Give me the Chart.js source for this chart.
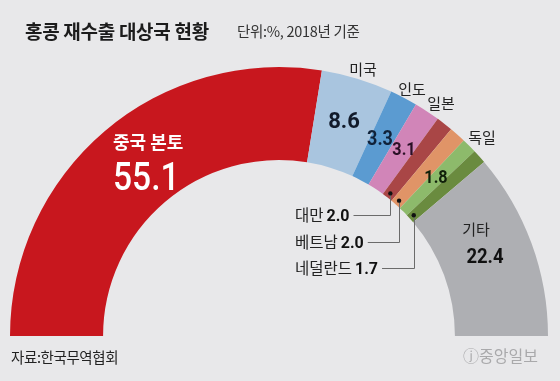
<!DOCTYPE html>
<html><head><meta charset="utf-8">
<script src="https://cdn.jsdelivr.net/npm/chart.js@4/dist/chart.umd.min.js"></script>
<style>
html,body{margin:0;padding:0;background:#e8e8ea;}
#wrap{position:relative;width:560px;height:381px;overflow:hidden;background:#e8e8ea;font-family:"Noto Sans CJK KR",sans-serif;}
#c{position:absolute;left:0;top:0;}
.t{position:absolute;white-space:nowrap;line-height:1;}
</style></head><body>
<div id="wrap">
<canvas id="c" width="560" height="381"></canvas>
<div class="t" style="left:25px;top:21px;font-size:19px;font-weight:bold;color:#1c1c1c;letter-spacing:-0.3px;">홍콩 재수출 대상국 현황</div>
<div class="t" style="left:237px;top:24px;font-size:14.5px;color:#333;letter-spacing:-0.3px;">단위:%, 2018년 기준</div>
<div class="t" style="left:11px;top:350px;font-size:14.5px;color:#222;letter-spacing:-0.4px;">자료:한국무역협회</div>
<div class="t" style="left:463px;top:347px;font-size:16px;color:#a9a9ab;">ⓙ중앙일보</div>
</div>
<script>
const categories = ['중국 본토','미국','인도','일본','대만','베트남','독일','네덜란드','기타'];
const shares = [55.1, 8.6, 3.3, 3.1, 2.0, 2.0, 1.8, 1.7, 22.4];
const valueLabels = ['55.1','8.6','3.3','3.1','2.0','2.0','1.8','1.7','22.4'];
const colors = ['#c8171e','#a9c5df','#5b9bd1','#d185b8','#a94646','#e09467','#8dba6b','#6a8b3f','#aeafb3'];

const KR = '"Noto Sans CJK KR", sans-serif';
const NUM = 'Roboto, "Liberation Sans", sans-serif';

// label placement (style only)
const namePos = {
  0:{x:113,y:142,size:18,color:'#ffffff',bold:true,align:'left'},
  1:{x:363,y:69,size:15,color:'#222'},
  2:{x:412,y:89,size:15,color:'#222'},
  3:{x:441,y:103,size:15,color:'#222'},
  6:{x:482,y:137,size:15,color:'#222'},
  8:{x:476,y:229,size:15,color:'#222'}
};
const valuePos = {
  0:{x:113,y:190,size:39,color:'#ffffff',align:'left',w:'500',sx:0.86},
  1:{x:344,y:128,size:22,color:'#111a2a',w:'bold'},
  2:{x:380,y:145,size:20,color:'#10223a',w:'bold',sx:0.9},
  3:{x:404,y:155,size:18,color:'#2a1026',w:'bold',sx:0.9},
  6:{x:436,y:183,size:18,color:'#10200a',w:'bold',sx:0.9},
  8:{x:485,y:263,size:21,color:'#111',w:'bold',sx:0.88}
};
const leaders = [
  {i:4,y:215},
  {i:5,y:242},
  {i:7,y:268}
];

const labelPlugin = {
  id:'labels',
  afterDatasetsDraw(chart){
    const ctx = chart.ctx;
    const meta = chart.getDatasetMeta(0);
    ctx.save();
    Object.keys(namePos).forEach(k=>{
      const p = namePos[k];
      ctx.font = (p.bold?'bold ':'') + p.size + 'px ' + KR;
      ctx.fillStyle = p.color;
      ctx.textAlign = p.align || 'center';
      ctx.textBaseline = 'middle';
      ctx.fillText(categories[k], p.x, p.y);
    });
    Object.keys(valuePos).forEach(k=>{
      const p = valuePos[k];
      ctx.save();
      ctx.font = (p.w ? p.w + ' ' : '') + p.size + 'px ' + NUM;
      ctx.fillStyle = p.color;
      ctx.textAlign = p.align || 'center';
      ctx.textBaseline = 'alphabetic';
      const sx = p.sx || 1;
      ctx.translate(p.x, p.y);
      ctx.scale(sx, 1);
      ctx.fillText(valueLabels[k], 0, 0);
      ctx.restore();
    });
    // leader labels
    leaders.forEach(l=>{
      const arc = meta.data[l.i];
      const mid = (arc.startAngle + arc.endAngle)/2;
      const rr = arc.innerRadius + 5;
      const dx = arc.x + Math.cos(mid)*rr;
      const dy = arc.y + Math.sin(mid)*rr;
      const x0 = 295;
      ctx.font = '15.5px ' + KR;
      ctx.textAlign = 'left';
      ctx.textBaseline = 'middle';
      ctx.fillStyle = '#222';
      ctx.fillText(categories[l.i], x0, l.y);
      const w1 = ctx.measureText(categories[l.i]).width;
      ctx.font = 'bold 16px ' + NUM;
      ctx.textBaseline = 'alphabetic';
      ctx.fillStyle = '#111';
      const x1 = x0 + w1 + 3;
      ctx.fillText(valueLabels[l.i], x1, l.y + 6);
      const w2 = ctx.measureText(valueLabels[l.i]).width;
      const lx = x1 + w2 + 4;
      ctx.strokeStyle = '#6b6b6b';
      ctx.lineWidth = 1;
      ctx.beginPath();
      ctx.moveTo(lx, Math.round(l.y)+0.5);
      ctx.lineTo(Math.round(dx)+0.5, Math.round(l.y)+0.5);
      ctx.lineTo(Math.round(dx)+0.5, dy);
      ctx.stroke();
      ctx.fillStyle = '#111';
      ctx.beginPath();
      ctx.arc(dx, dy, 2.2, 0, Math.PI*2);
      ctx.fill();
    });
    ctx.restore();
  }
};

new Chart(document.getElementById('c'), {
  type:'doughnut',
  data:{labels:categories, datasets:[{data:shares, backgroundColor:colors, borderWidth:0, hoverOffset:0}]},
  options:{
    responsive:false, animation:false, devicePixelRatio:1,
    rotation:-90, circumference:180, cutout:'65.4%',
    layout:{padding:{left:10,right:12,top:67,bottom:45}},
    plugins:{legend:{display:false}, tooltip:{enabled:false}}
  },
  plugins:[labelPlugin]
});
</script>
</body></html>
